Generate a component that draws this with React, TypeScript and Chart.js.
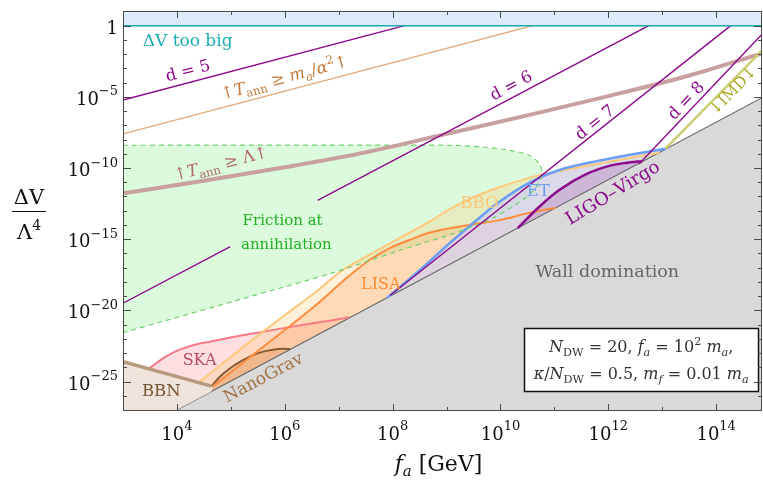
import React, { useEffect, useRef } from "react";
import { Chart, registerables } from "chart.js";

Chart.register(...registerables);

const FONT = '"DejaVu Serif", "Liberation Serif", serif';

// ---- axes (log10 units) ----
const X_RANGE = [3, 14.85];
const Y_RANGE = [-27.07, 1.03];
const X_TICKS = [3, 4, 5, 6, 7, 8, 9, 10, 11, 12, 13, 14];
const X_LABELS = [4, 6, 8, 10, 12, 14];
const Y_TICKS = [1, 0, -1, -2, -3, -4, -5, -6, -7, -8, -9, -10, -11, -12, -13, -14, -15, -16, -17, -18, -19, -20, -21, -22, -23, -24, -25, -26, -27];
const Y_LABELS = [0, -5, -10, -15, -20, -25];

// ---- regions / curves: x = log10(f_a/GeV), y = log10(ΔV/Λ^4) ----
const bandX = [3, 14.85];
const bandY = [0, 0];

const wallX = [3.96, 14.85];
const wallY = [-27.07, -5.06];

const bbnX = [3.0, 4.64];
const bbnY = [-23.61, -25.32];

const skaX = [3.49, 3.62, 3.74, 3.92, 4.11, 4.35, 4.61, 5.0, 5.41, 5.9, 6.33, 6.8, 7.2];
const skaY = [-24.08, -23.7, -23.37, -22.98, -22.67, -22.4, -22.2, -21.9, -21.62, -21.3, -21.03, -20.74, -20.48];

const ngX = [4.64, 4.8, 4.98, 5.2, 5.41, 5.6, 5.78, 5.95, 6.1];
const ngY = [-25.32, -24.65, -24.08, -23.55, -23.14, -22.9, -22.76, -22.7, -22.72];

const bboX = [4.42, 5.47, 5.96, 6.58, 7.07, 7.51, 8.12, 8.74, 9.05, 9.5, 9.98, 10.72, 11.46, 12.1, 12.69, 12.95];
const bboY = [-25.02, -21.86, -20.45, -18.69, -17.17, -16.23, -14.94, -13.65, -12.9, -12.05, -11.35, -10.5, -9.95, -9.5, -9.1, -8.92];

const lisaX = [4.67, 5.84, 6.58, 7.14, 7.57, 7.94, 8.31, 8.68, 9.05, 9.5, 9.98, 10.59, 11.03];
const lisaY = [-25.32, -21.86, -19.63, -17.75, -16.46, -15.64, -15.06, -14.55, -14.24, -13.95, -13.66, -13.1, -12.8];

const etX = [7.9, 8.5, 9.05, 9.5, 9.9, 10.3, 10.6, 11.09, 11.8, 12.4, 13.06];
const etY = [-19.1, -17.2, -15.3, -13.85, -12.6, -11.55, -10.9, -10.14, -9.5, -9.07, -8.64];

const ligoX = [10.32, 10.72, 11.09, 11.58, 12.07, 12.4, 12.63];
const ligoY = [-14.22, -12.72, -11.55, -10.45, -9.8, -9.6, -9.52];

const fricX = [3, 9.0, 9.6, 10.16, 10.53, 10.72, 10.77, 10.69, 10.53, 10.22, 9.85, 9.36, 9.05, 8.12, 6.95, 5.35, 3];
const fricY = [-8.4, -8.4, -8.5, -8.75, -9.1, -9.7, -10.37, -11.19, -11.9, -12.72, -13.53, -14.3, -14.71, -15.8, -17.29, -19.04, -21.57];

const d5X = [3, 8.22];
const d5Y = [-5.22, 0];
const d6X = [3, 4.99, 5.8, 6.61, 12.75];
const d6Y = [-19.5, -15.52, null, -12.28, 0];
const d7X = [7.95, 14.27];
const d7Y = [-18.96, 0];
const d8X = [12.57, 14.85];
const d8Y = [-9.72, -0.6];

const tMaX = [3, 10.6];
const tMaY = [-7.6, 0];

const tLamX = [3, 4.5, 6, 7.5, 9, 10.5, 12, 13.5, 14.85];
const tLamY = [-11.78, -10.9, -9.95, -8.9, -7.6, -6.3, -4.95, -3.5, -1.95];

const imdX = [13.06, 14.85];
const imdY = [-8.64, -1.75];

// ---- text ----
type Run = { t: string; it?: boolean; sub?: boolean; sup?: boolean };
type Lbl = { runs: Run[]; x: number; y: number; color: string; size: number; slope?: number; align?: "left" | "center" | "right" };

const PURPLE = "#8b0a8b";

const LABELS: Lbl[] = [
  { runs: [{ t: "ΔV too big" }], x: 3.365, y: -1.0, color: "#1cadb2", size: 17, align: "left" },
  { runs: [{ t: "d = 5" }], x: 4.2, y: -3.11, slope: 1, color: PURPLE, size: 16.5 },
  {
    runs: [{ t: "↑" }, { t: "T", it: true }, { t: "ann", sub: true }, { t: " ≥ " }, { t: "m", it: true }, { t: "a", it: true, sub: true }, { t: "/" }, { t: "α", it: true }, { t: "2", sup: true }, { t: "↑" }],
    x: 5.99, y: -3.6, slope: 1, color: "#c47a38", size: 16.5,
  },
  {
    runs: [{ t: "↑" }, { t: "T", it: true }, { t: "ann", sub: true }, { t: " ≥ Λ" }, { t: "↑" }],
    x: 4.81, y: -9.65, slope: 0.95, color: "#b0686a", size: 16.5,
  },
  { runs: [{ t: "d = 6" }], x: 10.19, y: -4.17, slope: 2, color: PURPLE, size: 16.5 },
  { runs: [{ t: "d = 7" }], x: 11.74, y: -6.75, slope: 3, color: PURPLE, size: 16.5 },
  { runs: [{ t: "d = 8" }], x: 13.43, y: -5.22, slope: 4, color: PURPLE, size: 16.5 },
  { runs: [{ t: "↓IMD↓" }], x: 14.3, y: -4.52, slope: 3.9, color: "#a9a925", size: 15.5 },
  { runs: [{ t: "Friction at" }], x: 5.96, y: -13.65, color: "#22b022", size: 15 },
  { runs: [{ t: "annihilation" }], x: 6.03, y: -15.34, color: "#22b022", size: 15 },
  { runs: [{ t: "BBO" }], x: 9.61, y: -12.37, color: "#ffc67a", size: 16.5 },
  { runs: [{ t: "ET" }], x: 10.7, y: -11.55, color: "#6fa0f5", size: 16.5 },
  { runs: [{ t: "LISA" }], x: 7.78, y: -18.06, color: "#ff8a35", size: 16 },
  { runs: [{ t: "LIGO–Virgo" }], x: 12.07, y: -11.69, slope: 2.3, color: PURPLE, size: 18 },
  { runs: [{ t: "SKA" }], x: 4.42, y: -23.42, color: "#b44e5c", size: 16 },
  { runs: [{ t: "BBN" }], x: 3.71, y: -25.6, color: "#7a5535", size: 16.5 },
  { runs: [{ t: "NanoGrav" }], x: 5.59, y: -24.67, slope: 2.02, color: "#a37245", size: 17 },
  { runs: [{ t: "Wall domination" }], x: 11.98, y: -17.24, color: "#666666", size: 17.5 },
];

const LEGEND_BOX = { x0: 10.44, x1: 14.78, y0: -21.27, y1: -25.67 };
const LEGEND_LINES: { runs: Run[]; y: number }[] = [
  {
    runs: [{ t: "N", it: true }, { t: "DW", sub: true }, { t: " = 20, " }, { t: "f", it: true }, { t: "a", it: true, sub: true }, { t: " = 10" }, { t: "2", sup: true }, { t: " " }, { t: "m", it: true }, { t: "a", it: true, sub: true }, { t: "," }],
    y: -22.51,
  },
  {
    runs: [{ t: "κ", it: true }, { t: "/" }, { t: "N", it: true }, { t: "DW", sub: true }, { t: " = 0.5, " }, { t: "m", it: true }, { t: "f", it: true, sub: true }, { t: " = 0.01 " }, { t: "m", it: true }, { t: "a", it: true, sub: true }],
    y: -24.43,
  },
];

const pts = (xs: number[], ys: (number | null)[]) => xs.map((x, i) => ({ x, y: ys[i] }));

function yOnLine(xs: number[], ys: number[], x: number) {
  for (let i = 0; i < xs.length - 1; i++) {
    if (x >= xs[i] && x <= xs[i + 1]) return ys[i] + ((ys[i + 1] - ys[i]) * (x - xs[i])) / (xs[i + 1] - xs[i]);
  }
  return ys[ys.length - 1];
}

function runFont(r: Run, size: number, small: number) {
  return `${r.it ? "italic " : ""}${r.sub || r.sup ? small : size}px ${FONT}`;
}

function drawRuns(
  ctx: CanvasRenderingContext2D,
  runs: Run[],
  x: number,
  baseY: number,
  size: number,
  color: string,
  align: "left" | "center" | "right",
  opt: { small?: number; rise?: number; drop?: number } = {}
) {
  const small = opt.small ?? size * 0.7;
  const rise = opt.rise ?? size * 0.42;
  const drop = opt.drop ?? size * 0.25;
  const widths = runs.map((r) => {
    ctx.font = runFont(r, size, small);
    return ctx.measureText(r.t).width;
  });
  const total = widths.reduce((s, w) => s + w, 0);
  let cx = align === "left" ? x : align === "right" ? x - total : x - total / 2;
  ctx.fillStyle = color;
  ctx.textAlign = "left";
  ctx.textBaseline = "alphabetic";
  runs.forEach((r, i) => {
    ctx.font = runFont(r, size, small);
    ctx.fillText(r.t, cx, baseY + (r.sub ? drop : r.sup ? -rise : 0));
    cx += widths[i];
  });
  return total;
}

const overlay = {
  id: "overlay",
  afterDatasetsDraw(chart: any) {
    const { ctx, chartArea: a, scales } = chart;
    const xs = scales.x;
    const ys = scales.y;
    const ppx = xs.getPixelForValue(1) - xs.getPixelForValue(0);
    const ppy = ys.getPixelForValue(0) - ys.getPixelForValue(1);
    ctx.save();

    // text labels in the plot
    for (const l of LABELS) {
      const px = xs.getPixelForValue(l.x);
      const py = ys.getPixelForValue(l.y);
      ctx.save();
      ctx.translate(px, py);
      if (l.slope) ctx.rotate(-Math.atan((l.slope * ppy) / ppx));
      const align = l.align ?? "center";
      drawRuns(ctx, l.runs, 0, l.size * 0.36, l.size, l.color, align);
      ctx.restore();
    }

    // legend box
    const bx0 = xs.getPixelForValue(LEGEND_BOX.x0);
    const bx1 = xs.getPixelForValue(LEGEND_BOX.x1);
    const by0 = ys.getPixelForValue(LEGEND_BOX.y0);
    const by1 = ys.getPixelForValue(LEGEND_BOX.y1);
    ctx.fillStyle = "#ffffff";
    ctx.fillRect(bx0, by0, bx1 - bx0, by1 - by0);
    ctx.strokeStyle = "#111";
    ctx.lineWidth = 1.5;
    ctx.strokeRect(Math.round(bx0) + 0.5, Math.round(by0) + 0.5, Math.round(bx1 - bx0), Math.round(by1 - by0));
    for (const ln of LEGEND_LINES) {
      drawRuns(ctx, ln.runs, (bx0 + bx1) / 2, ys.getPixelForValue(ln.y) + 6, 16, "#333", "center");
    }

    // frame
    ctx.strokeStyle = "#4a4a4a";
    ctx.lineWidth = 1;
    ctx.strokeRect(a.left + 0.5, a.top + 0.5, a.right - a.left - 1, a.bottom - a.top - 1);

    // ticks
    ctx.beginPath();
    for (const t of X_TICKS) {
      const px = Math.round(xs.getPixelForValue(t)) + 0.5;
      const len = X_LABELS.includes(t) ? 7 : 4;
      ctx.moveTo(px, a.bottom);
      ctx.lineTo(px, a.bottom - len);
      ctx.moveTo(px, a.top);
      ctx.lineTo(px, a.top + len);
    }
    for (const t of Y_TICKS) {
      const py = Math.round(ys.getPixelForValue(t)) + 0.5;
      const len = Y_LABELS.includes(t) ? 8 : 4;
      ctx.moveTo(a.left, py);
      ctx.lineTo(a.left + len, py);
      ctx.moveTo(a.right, py);
      ctx.lineTo(a.right - len, py);
    }
    ctx.stroke();

    // tick labels
    for (const t of X_LABELS) {
      const px = xs.getPixelForValue(t);
      drawRuns(ctx, [{ t: "10" }, { t: String(t), sup: true }], px, a.bottom + 29, 18, "#111", "center", { small: 13, rise: 10 });
    }
    for (const t of Y_LABELS) {
      const py = ys.getPixelForValue(t);
      const runs: Run[] = t === 0 ? [{ t: "1" }] : [{ t: "10" }, { t: "−" + String(-t), sup: true }];
      drawRuns(ctx, runs, a.left - 5, py + 8, 18, "#111", "right", { small: 13, rise: 9.5 });
    }

    // axis titles
    drawRuns(ctx, [{ t: "f", it: true }, { t: "a", it: true, sub: true }, { t: " [GeV]" }], (a.left + a.right) / 2 - 4, a.bottom + 60, 22, "#111", "center", { small: 15, drop: 5 });
    const yc = 29;
    drawRuns(ctx, [{ t: "ΔV" }], yc, 204, 21, "#111", "center");
    ctx.beginPath();
    ctx.moveTo(12, 211.5);
    ctx.lineTo(46, 211.5);
    ctx.lineWidth = 1.2;
    ctx.strokeStyle = "#111";
    ctx.stroke();
    drawRuns(ctx, [{ t: "Λ" }, { t: "4", sup: true }], yc, 239, 21, "#111", "center", { small: 14, rise: 9 });

    ctx.restore();
  },
};

function lineDs(data: any[], color: string, width: number, extra: any = {}) {
  return { data, borderColor: color, borderWidth: width, backgroundColor: "transparent", fill: false, pointRadius: 0, clip: 0, spanGaps: false, ...extra };
}
function areaDs(data: any[], color: string, fill: any, extra: any = {}) {
  return { data, borderColor: "transparent", borderWidth: 0, backgroundColor: color, fill, pointRadius: 0, clip: 0, ...extra };
}

export default function App() {
  const ref = useRef<HTMLCanvasElement | null>(null);

  useEffect(() => {
    if (!ref.current) return;
    const mono = { cubicInterpolationMode: "monotone" };
    const bbnPoly = [
      ...pts(bbnX, bbnY),
      { x: bbnX[bbnX.length - 1], y: yOnLine(wallX, wallY, bbnX[bbnX.length - 1]) },
      { x: wallX[0], y: wallY[0] },
      { x: X_RANGE[0], y: Y_RANGE[0] },
    ];
    const datasets: any[] = [
      areaDs(pts(bandX, bandY), "#dcecfb", "end"),
      areaDs(pts(fricX, fricY), "#dcfadc", "shape", { tension: 0.3 }),
      areaDs(pts(skaX, skaY), "rgba(248,110,125,0.22)", "start", mono),
      areaDs(pts(ngX, ngY), "rgba(170,110,60,0.28)", "start", mono),
      areaDs(pts(bboX, bboY), "rgba(255,200,120,0.28)", "start", mono),
      areaDs(pts(lisaX, lisaY), "rgba(255,140,60,0.22)", "start", mono),
      areaDs(pts(etX, etY), "rgba(205,208,240,0.7)", "start", mono),
      areaDs(pts(ligoX, ligoY), "rgba(160,60,165,0.22)", "start", mono),
      { ...areaDs(pts(wallX, wallY), "#d9d9d9", "start"), borderColor: "#666666", borderWidth: 1.2 },
      areaDs(bbnPoly, "#efe4dc", "shape"),
      lineDs(pts(skaX, skaY), "#f77a86", 2, mono),
      lineDs(pts(ngX, ngY), "#8a5a32", 2, mono),
      lineDs(pts(bboX, bboY), "#ffc87a", 2, mono),
      lineDs(pts(lisaX, lisaY), "#ff8c3c", 2, mono),
      lineDs(pts(etX, etY), "#6b9ff5", 2.5, mono),
      lineDs(pts(ligoX, ligoY), PURPLE, 2.5, mono),
      lineDs(pts(bbnX, bbnY), "#b89a7e", 3.5),
      lineDs(pts(fricX, fricY), "#6fcf6f", 1.2, { tension: 0.3, borderDash: [5, 4] }),
      lineDs(pts(tMaX, tMaY), "#e0a878", 1.3),
      lineDs(pts(tLamX, tLamY), "#c9a0a0", 4, mono),
      lineDs(pts(imdX, imdY), "#cccc70", 2.5),
      lineDs(pts(d5X, d5Y), PURPLE, 1.4),
      lineDs(pts(d6X, d6Y), PURPLE, 1.4),
      lineDs(pts(d7X, d7Y), PURPLE, 1.4),
      lineDs(pts(d8X, d8Y), PURPLE, 1.4),
      lineDs(pts(bandX, bandY), "#1ea8b0", 1.5),
    ];
    datasets.forEach((d, i) => (d.order = -i));

    const chart = new Chart(ref.current, {
      type: "line",
      data: { datasets },
      plugins: [overlay],
      options: {
        animation: false,
        responsive: false,
        maintainAspectRatio: false,
        events: [],
        layout: { padding: { left: 123, top: 11, right: 1, bottom: 70 } },
        elements: { point: { radius: 0 } },
        plugins: { legend: { display: false }, tooltip: { enabled: false }, filler: { propagate: false } },
        scales: {
          x: { type: "linear", min: X_RANGE[0], max: X_RANGE[1], display: false },
          y: { type: "linear", min: Y_RANGE[0], max: Y_RANGE[1], display: false },
        },
      },
    } as any);
    return () => chart.destroy();
  }, []);

  return (
    <div style={{ position: "fixed", left: 0, top: 0, width: 763, height: 481, background: "#ffffff" }}>
      <canvas ref={ref} width={763} height={481} style={{ display: "block" }} />
    </div>
  );
}
